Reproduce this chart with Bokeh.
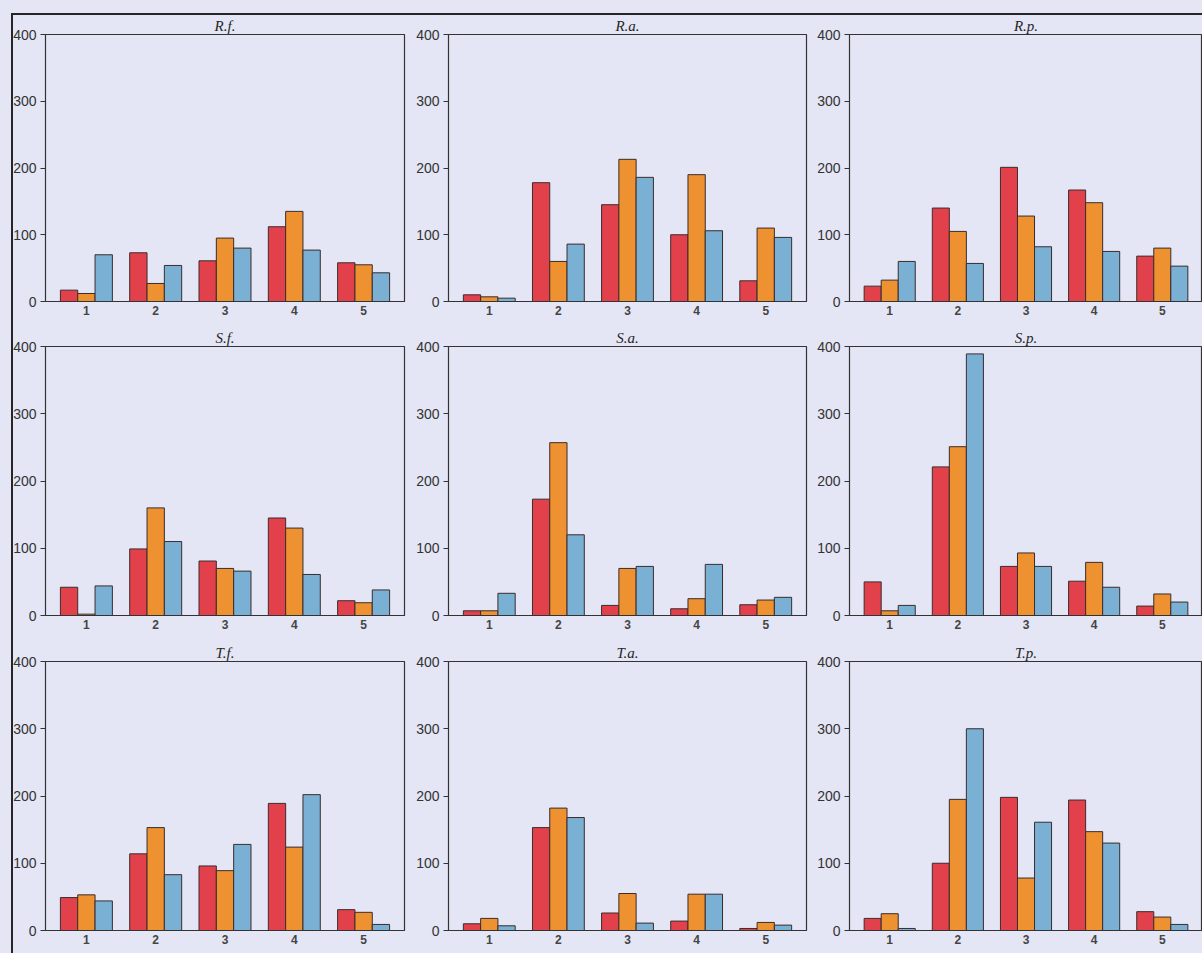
from bokeh.plotting import figure
from bokeh.layouts import row, column
from bokeh.models import ColumnDataSource, Range1d, FixedTicker, InlineStyleSheet
from bokeh.transform import dodge
from bokeh.embed import file_html
from bokeh.resources import INLINE

# ---- data -------------------------------------------------------------
groups = [1, 2, 3, 4, 5]
titles = ["R.f.", "R.a.", "R.p.", "S.f.", "S.a.", "S.p.", "T.f.", "T.a.", "T.p."]

rf_red    = [17, 73, 61, 112, 58]
rf_orange = [12, 27, 95, 135, 55]
rf_blue   = [70, 54, 80, 77, 43]

ra_red    = [10, 178, 145, 100, 31]
ra_orange = [7, 60, 213, 190, 110]
ra_blue   = [5, 86, 186, 106, 96]

rp_red    = [23, 140, 201, 167, 68]
rp_orange = [32, 105, 128, 148, 80]
rp_blue   = [60, 57, 82, 75, 53]

sf_red    = [42, 99, 81, 145, 22]
sf_orange = [2, 160, 70, 130, 19]
sf_blue   = [44, 110, 66, 61, 38]

sa_red    = [7, 173, 15, 10, 16]
sa_orange = [7, 257, 70, 25, 23]
sa_blue   = [33, 120, 73, 76, 27]

sp_red    = [50, 221, 73, 51, 14]
sp_orange = [7, 251, 93, 79, 32]
sp_blue   = [15, 389, 73, 42, 20]

tf_red    = [49, 114, 96, 189, 31]
tf_orange = [53, 153, 89, 124, 27]
tf_blue   = [44, 83, 128, 202, 9]

ta_red    = [10, 153, 26, 14, 3]
ta_orange = [18, 182, 55, 54, 12]
ta_blue   = [7, 168, 11, 54, 8]

tp_red    = [18, 100, 198, 194, 28]
tp_orange = [25, 195, 78, 147, 20]
tp_blue   = [3, 300, 161, 130, 9]

y_ticks = [0, 100, 200, 300, 400]

series = [
    (rf_red, rf_orange, rf_blue), (ra_red, ra_orange, ra_blue), (rp_red, rp_orange, rp_blue),
    (sf_red, sf_orange, sf_blue), (sa_red, sa_orange, sa_blue), (sp_red, sp_orange, sp_blue),
    (tf_red, tf_orange, tf_blue), (ta_red, ta_orange, ta_blue), (tp_red, tp_orange, tp_blue),
]

# ---- style ------------------------------------------------------------
RED, ORANGE, BLUE = "#e2404b", "#ed9131", "#79b0d3"
BG = "#e4e6f5"
INK = "#333333"

col_widths = [410, 400, 392]
col_left = [45, 38, 39]
col_right = [6, 4, 0]
row_heights = [320, 316, 317]
row_top = [34, 26, 25]
row_bottom = [19, 21, 23]


def make_panel(i):
    r, c = divmod(i, 3)
    red, orange, blue = series[i]
    src = ColumnDataSource(dict(g=groups, red=red, orange=orange, blue=blue))
    p = figure(width=col_widths[c], height=row_heights[r],
               x_range=Range1d(0.41, 5.59), y_range=Range1d(0, 400),
               output_backend="svg", toolbar_location=None,
               min_border_left=col_left[c], min_border_right=col_right[c],
               min_border_top=row_top[r], min_border_bottom=row_bottom[r])
    p.background_fill_color = BG
    p.border_fill_color = BG
    p.outline_line_color = INK
    p.outline_line_width = 1.2
    p.xgrid.visible = False
    p.ygrid.visible = False

    for key, dx, color in (("red", -0.25, RED), ("orange", 0.0, ORANGE), ("blue", 0.25, BLUE)):
        p.vbar(x=dodge("g", dx, range=p.x_range), top=key, bottom=0, width=0.25,
               source=src, fill_color=color, line_color="#3a2d2d", line_width=1)

    p.title.text = titles[i]
    p.title.align = "center"
    p.title.text_font = "Liberation Serif"
    p.title.text_font_style = "italic"
    p.title.text_font_size = "15px"
    p.title.text_color = "#262626"
    p.title.standoff = 1

    ya = p.yaxis[0]
    ya.ticker = FixedTicker(ticks=y_ticks)
    ya.minor_tick_line_color = None
    ya.major_tick_in = 0
    ya.major_tick_out = 5
    ya.major_label_standoff = 4
    ya.major_label_text_font = "Liberation Sans"
    ya.major_label_text_font_size = "14px"
    ya.major_label_text_color = INK
    ya.axis_line_color = INK
    ya.major_tick_line_color = INK

    xa = p.xaxis[0]
    xa.ticker = FixedTicker(ticks=groups)
    xa.minor_tick_line_color = None
    xa.major_tick_in = 0
    xa.major_tick_out = 0
    xa.major_label_standoff = 4
    xa.major_label_text_font = "Liberation Sans"
    xa.major_label_text_font_size = "12px"
    xa.major_label_text_font_style = "bold"
    xa.major_label_text_color = "#444444"
    xa.axis_line_color = INK
    return p


panels = [make_panel(i) for i in range(9)]
rows = [row(*panels[k:k + 3], styles={"background-color": BG}) for k in (0, 3, 6)]

# rules of the scanned page frame (left and top), drawn over the panels
frame_css = InlineStyleSheet(css="""
:host { position: relative; }
:host::before { content: ""; position: absolute; left: 11px; top: 13px; bottom: 0;
                width: 2px; background: #262626; z-index: 50; pointer-events: none; }
:host::after  { content: ""; position: absolute; left: 11px; right: 0; top: 13px;
                height: 2px; background: #262626; z-index: 50; pointer-events: none; }
""")
layout = column(*rows, styles={"background-color": BG}, stylesheets=[frame_css])

open("out.html", "w").write(file_html(layout, INLINE))
